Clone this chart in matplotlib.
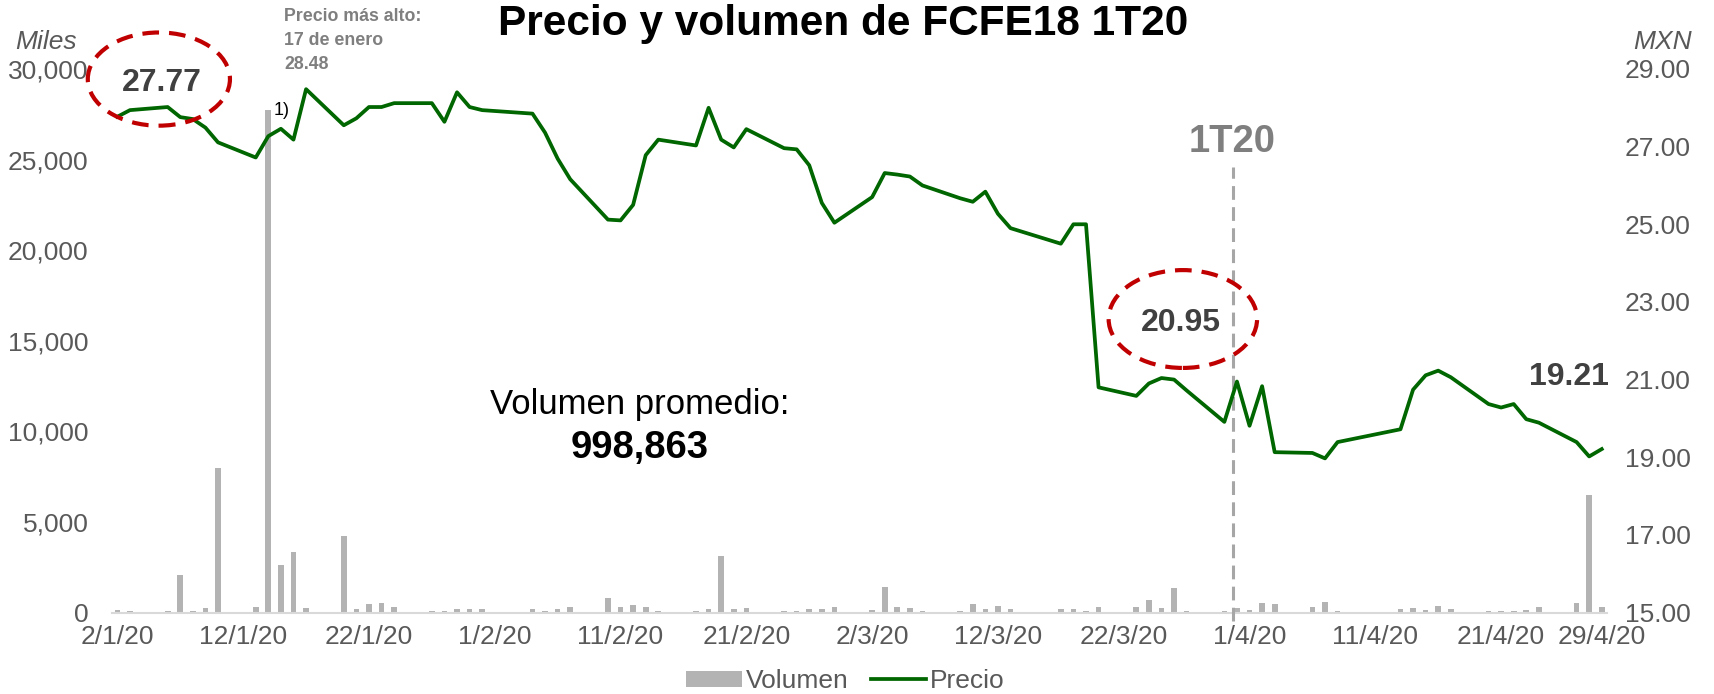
import pandas as pd
import matplotlib
matplotlib.use("Agg")
import matplotlib.pyplot as plt
import matplotlib.dates as mdates
from matplotlib.patches import Ellipse, Patch
from matplotlib.lines import Line2D
from matplotlib.ticker import FuncFormatter

plt.rcParams['font.family'] = ['Liberation Sans', 'DejaVu Sans']

# --- Data: trading days Jan-Apr 2020 ---
fechas = [
    "2020-01-02", "2020-01-03", "2020-01-06", "2020-01-07", "2020-01-08", "2020-01-09", "2020-01-10",
    "2020-01-13", "2020-01-14", "2020-01-15", "2020-01-16", "2020-01-17", "2020-01-20", "2020-01-21",
    "2020-01-22", "2020-01-23", "2020-01-24", "2020-01-27", "2020-01-28", "2020-01-29", "2020-01-30",
    "2020-01-31",
    "2020-02-04", "2020-02-05", "2020-02-06", "2020-02-07", "2020-02-10", "2020-02-11", "2020-02-12",
    "2020-02-13", "2020-02-14", "2020-02-17", "2020-02-18", "2020-02-19", "2020-02-20", "2020-02-21",
    "2020-02-24", "2020-02-25", "2020-02-26", "2020-02-27", "2020-02-28",
    "2020-03-02", "2020-03-03", "2020-03-04", "2020-03-05", "2020-03-06", "2020-03-09", "2020-03-10",
    "2020-03-11", "2020-03-12", "2020-03-13", "2020-03-17", "2020-03-18", "2020-03-19", "2020-03-20",
    "2020-03-23", "2020-03-24", "2020-03-25", "2020-03-26", "2020-03-27", "2020-03-30", "2020-03-31",
    "2020-04-01", "2020-04-02", "2020-04-03", "2020-04-06", "2020-04-07", "2020-04-08", "2020-04-13",
    "2020-04-14", "2020-04-15", "2020-04-16", "2020-04-17", "2020-04-20", "2020-04-21", "2020-04-22",
    "2020-04-23", "2020-04-24", "2020-04-27", "2020-04-28", "2020-04-29",
]

precio = [
    27.77, 27.94, 28.02, 27.76, 27.71, 27.49, 27.11,
    26.72, 27.27, 27.46, 27.18, 28.48, 27.55, 27.73,
    28.02, 28.02, 28.12, 28.12, 27.64, 28.40, 28.02,
    27.94,
    27.85, 27.36, 26.69, 26.16, 25.12, 25.10, 25.50,
    26.78, 27.18, 27.03, 28.00, 27.18, 26.98, 27.45,
    26.96, 26.93, 26.52, 25.55, 25.04,
    25.70, 26.32, 26.28, 26.23, 26.00, 25.67, 25.58,
    25.84, 25.27, 24.90, 24.50, 25.00, 25.00, 20.80,
    20.58, 20.90, 21.04, 21.00, 20.72, 19.91, 20.95,
    19.81, 20.83, 19.13, 19.11, 18.97, 19.39, 19.72,
    20.74, 21.11, 21.23, 21.06, 20.37, 20.28, 20.37,
    19.98, 19.89, 19.39, 19.02, 19.21,
]

# volumen en miles
volumen = [
    150, 90, 90, 2050, 90, 240, 8000,
    300, 27750, 2600, 3350, 240, 4250, 185,
    460, 500, 280, 90, 110, 170, 170,
    185,
    170, 110, 220, 315, 810, 330, 425,
    315, 110, 110, 170, 3130, 185, 260,
    90, 90, 200, 200, 315,
    150, 1425, 300, 260, 110, 90, 460,
    170, 370, 185, 170, 220, 110, 315,
    315, 700, 240, 1370, 110, 110, 240,
    150, 500, 445, 315, 575, 110, 200,
    240, 150, 370, 170, 90, 90, 90,
    130, 280, 520, 6500, 280,
]

tick_fechas = ["2020-01-02", "2020-01-12", "2020-01-22", "2020-02-01", "2020-02-11", "2020-02-21",
               "2020-03-02", "2020-03-12", "2020-03-22", "2020-04-01", "2020-04-11", "2020-04-21",
               "2020-04-29"]
tick_labels = ["2/1/20", "12/1/20", "22/1/20", "1/2/20", "11/2/20", "21/2/20", "2/3/20",
               "12/3/20", "22/3/20", "1/4/20", "11/4/20", "21/4/20", "29/4/20"]

x = mdates.date2num(pd.to_datetime(fechas))
d0 = x[0]

GRIS_TXT = '#595959'
VERDE = '#006600'
ROJO = '#c00000'

fig = plt.figure(figsize=(17.15, 6.94), dpi=100)
ax = fig.add_axes([0.0655, 0.1174, 0.8714, 0.7832])

# --- Volume bars ---
ax.bar(x, volumen, width=0.45, color='#b3b3b3', zorder=2)
ax.set_ylim(0, 30000)
ax.set_yticks(range(0, 30001, 5000))
ax.yaxis.set_major_formatter(FuncFormatter(lambda v, p: f"{int(v):,}"))
ax.set_xlim(x[0] - 0.4, x[-1] + 0.4)
ax.set_xticks(mdates.date2num(pd.to_datetime(tick_fechas)))
ax.set_xticklabels(tick_labels)

for s in ['top', 'left', 'right']:
    ax.spines[s].set_visible(False)
ax.spines['bottom'].set_color('#d9d9d9')
ax.spines['bottom'].set_linewidth(1.5)
ax.tick_params(axis='y', length=0, labelsize=19, labelcolor=GRIS_TXT, pad=17)
ax.tick_params(axis='x', length=0, labelsize=19, labelcolor=GRIS_TXT, pad=9)

# --- Price line ---
ax2 = ax.twinx()
ax2.plot(x, precio, color=VERDE, lw=2.7, zorder=3)
ax2.set_ylim(15, 29)
ax2.set_yticks(range(15, 30, 2))
ax2.yaxis.set_major_formatter(FuncFormatter(lambda v, p: f"{v:.2f}"))
for s in ['top', 'left', 'right', 'bottom']:
    ax2.spines[s].set_visible(False)
ax2.tick_params(axis='y', length=0, labelsize=19, labelcolor=GRIS_TXT, pad=13)

# 1T20 marker at end of quarter
q_end = mdates.date2num(pd.Timestamp("2020-03-31")) - 0.35
ax2.axvline(q_end, ymin=-0.015, ymax=0.82, color='#a6a6a6', lw=2.2,
            linestyle=(0, (4.5, 2.4)), clip_on=False, zorder=1)
ax2.text(q_end, 27.12, "1T20", ha='center', va='center', fontsize=27.5,
         fontweight='bold', color='#7f7f7f')

# annotations
ax2.add_patch(Ellipse((d0 + 3.3, 28.74), 11.3, 2.40, fill=False, edgecolor=ROJO,
                      lw=3, linestyle=(0, (4, 2.4)), clip_on=False, zorder=4))
ax2.text(d0 + 3.5, 28.64, "27.77", ha='center', va='center', fontsize=23,
         fontweight='bold', color='#404040')
ax2.add_patch(Ellipse((d0 + 84.7, 22.56), 11.8, 2.52, fill=False, edgecolor=ROJO,
                      lw=3, linestyle=(0, (4, 2.4)), zorder=4))
ax2.text(d0 + 84.55, 22.46, "20.95", ha='center', va='center', fontsize=23,
         fontweight='bold', color='#404040')
ax2.text(d0 + 115.4, 21.07, "19.21", ha='center', va='center', fontsize=23,
         fontweight='bold', color='#404040')
ax2.text(d0 + 12.4, 27.92, "1)", ha='left', va='center', fontsize=13, color='black')

ax2.text(d0 + 41.5, 20.35, "Volumen promedio:", ha='center', va='center', fontsize=25,
         color='black')
ax2.text(d0 + 41.5, 19.24, "998,863", ha='center', va='center', fontsize=27.5,
         fontweight='bold', color='black')

fig.text(284 / 1715, 1 - 8 / 694, "Precio más alto:\n17 de enero\n28.48", ha='left', va='top',
         fontsize=12.8, fontweight='bold', color='#7f7f7f', linespacing=1.55)

# --- Titles and units ---
fig.text(843 / 1715, 1 - 24 / 694, "Precio y volumen de FCFE18 1T20", ha='center', va='center',
         fontsize=30.5, fontweight='bold', color='black')
fig.text(46 / 1715, 1 - 42 / 694, "Miles", ha='center', va='center', fontsize=19,
         style='italic', color=GRIS_TXT)
fig.text(1663 / 1715, 1 - 42 / 694, "MXN", ha='center', va='center', fontsize=19,
         style='italic', color=GRIS_TXT)

# --- Legend ---
handles = [Patch(facecolor='#b3b3b3', edgecolor='none'), Line2D([0], [0], color=VERDE, lw=2.7)]
fig.legend(handles, ["Volumen", "Precio"], loc='center', bbox_to_anchor=(0.493, 1 - 681 / 694),
           ncol=2, frameon=False, fontsize=19, labelcolor=GRIS_TXT, handlelength=2.1,
           handleheight=0.55, handletextpad=0.15, columnspacing=0.85)

fig.savefig("out.png", dpi=100)
